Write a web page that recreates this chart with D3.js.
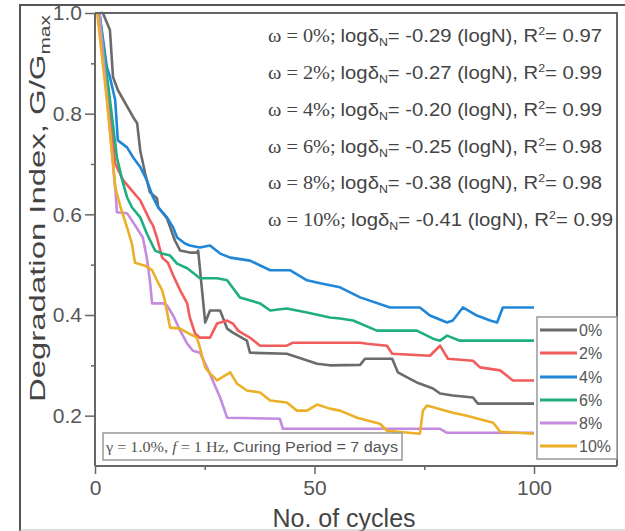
<!DOCTYPE html>
<html><head><meta charset="utf-8">
<script src="https://cdn.jsdelivr.net/npm/d3@7"></script>
<style>body{margin:0;background:#fff}svg{display:block}</style>
</head><body>
<svg id="c" width="625" height="531"></svg>
<script>
// ---- data ----
const seriesNames = ["0%", "2%", "4%", "6%", "8%", "10%"];
const seriesColors = ["#6b6b6b", "#f25c5c", "#2086d8", "#1fae7f", "#c58be0", "#ebb027"];
const slopes = ["-0.29", "-0.27", "-0.20", "-0.25", "-0.38", "-0.41"];
const r2 = ["0.97", "0.99", "0.99", "0.98", "0.98", "0.99"];
const xTicks = [0, 50, 100];
const xMinor = [25, 75];
const yTicks = [0.2, 0.4, 0.6, 0.8, 1.0];
const yMinor = [0.3, 0.5, 0.7, 0.9];

const w0 = [[1,1.0],[1.8,1.0],[3.4,0.966],[4.1,0.873],[5.2,0.847],[8.7,0.793],[9.6,0.781],[10.3,0.727],[11.4,0.682],[12.5,0.644],[14.1,0.632],[14.4,0.614],[16.4,0.592],[18.2,0.548],[19.4,0.528],[21.6,0.524],[23.2,0.524],[23.5,0.528],[25.1,0.385],[26.2,0.409],[28.5,0.409],[30.1,0.373],[31.4,0.365],[34.6,0.349],[35.3,0.325],[43.7,0.323],[50.6,0.303],[53.5,0.300],[60.4,0.301],[61.5,0.313],[67.7,0.313],[69.0,0.286],[71.1,0.276],[73.3,0.266],[77.0,0.254],[78.6,0.244],[81.5,0.240],[86.1,0.236],[87.2,0.224],[100,0.224]];
const w2 = [[1,1.0],[4.6,0.701],[6.4,0.668],[8.7,0.644],[10.3,0.628],[12.5,0.588],[13.2,0.578],[14.1,0.554],[15.3,0.514],[16.6,0.504],[17.8,0.479],[19.4,0.449],[21.0,0.423],[21.6,0.395],[22.8,0.363],[23.9,0.355],[26.2,0.355],[27.8,0.383],[30.1,0.389],[31.4,0.383],[32.6,0.369],[33.7,0.363],[35.3,0.355],[37.6,0.339],[43.7,0.339],[45.1,0.345],[60.4,0.345],[62.0,0.343],[66.5,0.339],[67.7,0.323],[76.3,0.319],[77.9,0.333],[78.6,0.339],[79.7,0.323],[80.4,0.313],[86.1,0.309],[87.7,0.296],[92.3,0.290],[95.2,0.270],[100,0.270]];
const w4 = [[1,1.0],[2.7,0.893],[3.4,0.873],[4.6,0.827],[5.2,0.747],[7.3,0.733],[8.7,0.713],[10.3,0.694],[11.8,0.668],[13.2,0.634],[14.4,0.614],[16.4,0.594],[17.8,0.574],[18.7,0.554],[20.5,0.542],[21.6,0.538],[23.9,0.534],[26.2,0.538],[28.5,0.522],[30.8,0.514],[35.3,0.508],[39.9,0.489],[44.4,0.489],[48.3,0.469],[51.3,0.463],[55.8,0.455],[60.4,0.435],[67.2,0.415],[74.0,0.415],[76.3,0.399],[80.2,0.385],[81.5,0.389],[83.8,0.415],[87.0,0.399],[90.0,0.389],[91.6,0.385],[92.9,0.415],[100,0.415]];
const w6 = [[1,1.0],[5.0,0.713],[6.2,0.668],[7.3,0.634],[8.4,0.614],[10.3,0.594],[11.8,0.562],[13.7,0.528],[15.3,0.522],[17.1,0.518],[18.7,0.502],[21.0,0.493],[21.6,0.489],[23.9,0.473],[27.8,0.473],[30.1,0.469],[33.0,0.435],[37.6,0.423],[39.9,0.409],[43.7,0.413],[48.3,0.405],[53.5,0.395],[55.8,0.393],[58.8,0.389],[64.2,0.369],[73.3,0.369],[77.0,0.353],[78.6,0.349],[80.2,0.359],[83.1,0.349],[100,0.349]];
const w8 = [[1,1.0],[4.6,0.654],[5.0,0.604],[7.3,0.602],[8.4,0.588],[10.9,0.554],[11.8,0.514],[12.5,0.469],[13.0,0.423],[15.5,0.423],[16.4,0.419],[17.8,0.399],[19.4,0.369],[21.0,0.343],[22.3,0.329],[23.9,0.325],[25.5,0.296],[28.5,0.236],[30.1,0.196],[42.1,0.194],[42.8,0.174],[78.6,0.174],[80.2,0.166],[100,0.166]];
const w10 = [[0.5,1.0],[2.7,0.827],[4.6,0.654],[5.7,0.618],[7.3,0.574],[8.4,0.542],[9.1,0.504],[11.4,0.498],[13.0,0.489],[14.1,0.469],[15.3,0.449],[15.9,0.429],[17.1,0.375],[19.4,0.373],[21.0,0.365],[23.2,0.355],[23.9,0.335],[25.1,0.296],[26.2,0.284],[27.8,0.270],[30.8,0.286],[32.3,0.264],[34.6,0.250],[37.6,0.246],[39.9,0.230],[43.7,0.226],[46.0,0.210],[48.3,0.210],[50.6,0.222],[53.5,0.214],[55.8,0.210],[59.7,0.196],[64.9,0.184],[66.5,0.170],[74.0,0.164],[74.7,0.210],[75.6,0.220],[81.5,0.206],[84.7,0.200],[90.7,0.186],[92.3,0.168],[100,0.164]];
const seriesData = [w0, w2, w4, w6, w8, w10];

// ---- layout ----
const svg = d3.select("#c");
const x = d3.scaleLinear().domain([0, 100]).range([95, 534]);
const y = d3.scaleLinear().domain([0.1, 1.0]).range([466, 13]);
const frameRight = 617, frameTop = 13, frameBottom = 466, frameLeft = 95;
const axisCol = "#666";

svg.append("rect").attr("width", 625).attr("height", 531).attr("fill", "#fff");

// data lines
const line = d3.line().x(d => x(d[0])).y(d => y(d[1]));
seriesData.forEach((s, i) => {
  svg.append("path").datum(s).attr("d", line)
    .attr("fill", "none").attr("stroke", seriesColors[i])
    .attr("stroke-width", 2.6).attr("stroke-linejoin", "round");
});

// frame (top & right)
svg.append("path")
  .attr("d", `M${frameLeft},${frameTop}H${frameRight}V${frameBottom}`)
  .attr("fill", "none").attr("stroke", axisCol).attr("stroke-width", 2);

// axes
const yAxis = d3.axisLeft(y).tickValues(yTicks).tickFormat(d3.format(".1f"))
  .tickSize(10).tickPadding(3).tickSizeOuter(0);
const gy = svg.append("g").attr("transform", `translate(${frameLeft},0)`).call(yAxis);
gy.select(".domain").attr("stroke", axisCol).attr("stroke-width", 2)
  .attr("d", `M0,${frameBottom}V${frameTop}`);
gy.selectAll(".tick line").attr("stroke", axisCol).attr("stroke-width", 1.5);
gy.selectAll(".tick text").attr("fill", "#555").attr("font-size", 21)
  .attr("font-family", "Liberation Sans, Arial, sans-serif");
const gym = svg.append("g").attr("transform", `translate(${frameLeft},0)`)
  .call(d3.axisLeft(y).tickValues(yMinor).tickSize(4).tickFormat(""));
gym.select(".domain").remove();
gym.selectAll(".tick line").attr("stroke", axisCol).attr("stroke-width", 1.5);

const xAxis = d3.axisBottom(x).tickValues(xTicks).tickFormat(d3.format("d"))
  .tickSize(8).tickPadding(6).tickSizeOuter(0);
const gx = svg.append("g").attr("transform", `translate(0,${frameBottom})`).call(xAxis);
gx.select(".domain").attr("stroke", axisCol).attr("stroke-width", 2)
  .attr("d", `M${frameLeft},0H${frameRight}`);
gx.selectAll(".tick line").attr("stroke", axisCol).attr("stroke-width", 1.5);
gx.selectAll(".tick text").attr("fill", "#555").attr("font-size", 21)
  .attr("font-family", "Liberation Sans, Arial, sans-serif");
const gxm = svg.append("g").attr("transform", `translate(0,${frameBottom})`)
  .call(d3.axisBottom(x).tickValues(xMinor).tickSize(4).tickFormat(""));
gxm.select(".domain").remove();
gxm.selectAll(".tick line").attr("stroke", axisCol).attr("stroke-width", 1.5);

// axis titles
svg.append("text").attr("x", 344).attr("y", 527).attr("text-anchor", "middle")
  .attr("font-family", "Liberation Sans, Arial, sans-serif").attr("font-size", 25)
  .attr("fill", "#444").text("No. of cycles");

const yl = svg.append("text").attr("transform", "translate(45,402) rotate(-90)")
  .attr("font-family", "Liberation Sans, Arial, sans-serif").attr("font-size", 22)
  .attr("fill", "#444").attr("textLength", 387).attr("lengthAdjust", "spacingAndGlyphs");
yl.append("tspan").text("Degradation Index, G/G");
yl.append("tspan").attr("font-size", 14).attr("dy", 5).text("max");

// equation lines
const eqBase = [42, 79, 116, 153, 189, 226];
const eqEnd = [602, 602, 602, 602, 602, 613];
seriesNames.forEach((nm, i) => {
  const t = svg.append("text").attr("x", 268).attr("y", eqBase[i])
    .attr("font-family", "Liberation Sans, Arial, sans-serif").attr("font-size", 18)
    .attr("fill", "#444").attr("textLength", eqEnd[i] - 268)
    .attr("lengthAdjust", "spacingAndGlyphs");
  t.append("tspan").attr("font-family", "Liberation Serif, Times New Roman, serif")
    .text(`ω = ${nm}; `);
  t.append("tspan").text("logδ");
  t.append("tspan").attr("font-size", 11).attr("dy", 4).text("N");
  t.append("tspan").attr("dy", -4).text(`= ${slopes[i]} (logN), R`);
  t.append("tspan").attr("font-size", 11).attr("dy", -7).text("2");
  t.append("tspan").attr("dy", 7).text(`= ${r2[i]}`);
});

// legend
const lg = svg.append("g");
lg.append("rect").attr("x", 537).attr("y", 317).attr("width", 80).attr("height", 142)
  .attr("fill", "#fff").attr("stroke", "#999").attr("stroke-width", 1.5);
const legY = [330, 353, 377, 400, 423, 446];
seriesNames.forEach((nm, i) => {
  lg.append("line").attr("x1", 540).attr("x2", 577).attr("y1", legY[i]).attr("y2", legY[i])
    .attr("stroke", seriesColors[i]).attr("stroke-width", 3);
  lg.append("text").attr("x", 579).attr("y", legY[i] + 6)
    .attr("font-family", "Liberation Sans, Arial, sans-serif").attr("font-size", 16)
    .attr("fill", "#555").text(nm);
});

// condition box
svg.append("rect").attr("x", 103).attr("y", 433).attr("width", 299).attr("height", 27)
  .attr("fill", "#fff").attr("stroke", "#999").attr("stroke-width", 1.5);
const ct = svg.append("text").attr("x", 106).attr("y", 452)
  .attr("font-family", "Liberation Sans, Arial, sans-serif").attr("font-size", 14)
  .attr("fill", "#555").attr("textLength", 292).attr("lengthAdjust", "spacingAndGlyphs");
ct.append("tspan").attr("font-family", "Liberation Serif, serif").text("γ = 1.0%, ");
ct.append("tspan").attr("font-family", "Liberation Serif, serif").attr("font-style", "italic").text("f");
ct.append("tspan").attr("font-family", "Liberation Serif, serif").text(" = 1 Hz, ");
ct.append("tspan").text("Curing Period = 7 days");

// outer figure border (clips the top of "1.0")
svg.append("rect").attr("x", 0).attr("y", 0).attr("width", 625).attr("height", 6).attr("fill", "#fff");
svg.append("path").attr("d", "M20,531V5H625").attr("fill", "none")
  .attr("stroke", "#555").attr("stroke-width", 2);
svg.append("path").attr("d", "M20,530H625").attr("fill", "none")
  .attr("stroke", "#bbb").attr("stroke-width", 1);
</script>
</body></html>
